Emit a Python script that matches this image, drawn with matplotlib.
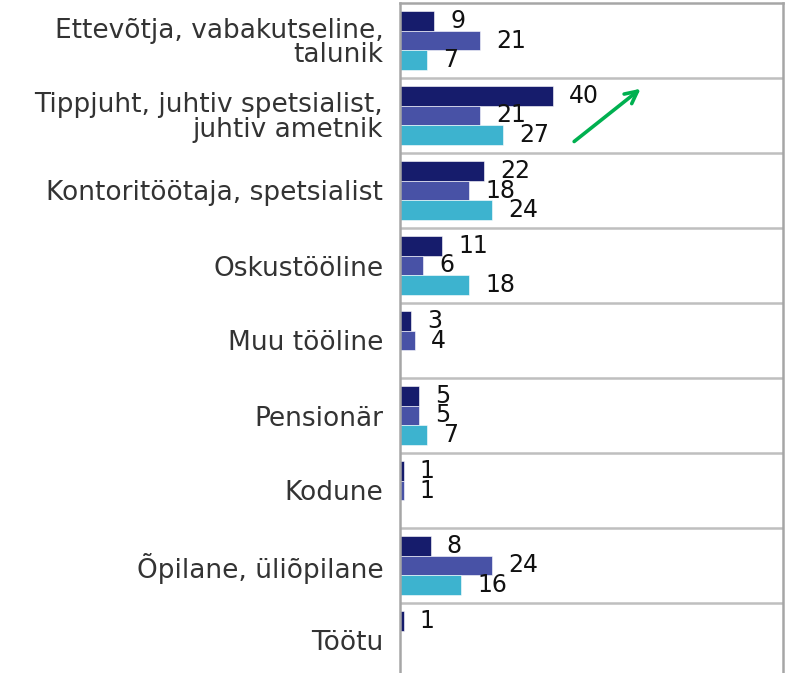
import numpy as np
import matplotlib.pyplot as plt

categories = ['Ettevõtja, vabakutseline,\ntalunik',
              'Tippjuht, juhtiv spetsialist,\njuhtiv ametnik',
              'Kontoritöötaja, spetsialist',
              'Oskustööline',
              'Muu tööline',
              'Pensionär',
              'Kodune',
              'Õpilane, üliõpilane',
              'Töötu']
series1 = [9, 40, 22, 11, 3, 5, 1, 8, 1]
series2 = [21, 21, 18, 6, 4, 5, 1, 24, None]
series3 = [7, 27, 24, 18, None, 7, None, 16, None]
colors = ['#161c6c', '#4852a6', '#3db3cf']

fig = plt.figure(figsize=(7.88, 6.73), dpi=100)
ax = fig.add_axes([400 / 788, -5 / 673, 383 / 788, 675 / 673])

y = np.arange(len(categories))
h = 0.26
for k, (vals, col) in enumerate(zip([series1, series2, series3], colors)):
    off = (k - 1) * h
    for i, v in enumerate(vals):
        if v is None:
            continue
        ax.barh(y[i] + off, v, height=h, color=col, edgecolor='white', linewidth=0.4)
        ax.annotate(str(v), (v, y[i] + off), xytext=(16, 0), textcoords='offset pixels',
                    ha='left', va='center', fontsize=17, color='#111111')

ax.set_xlim(0, 100)
ax.set_ylim(len(categories) - 0.5, -0.5)
ax.set_yticks(y)
ax.set_yticklabels(categories, fontsize=19, color='#333333', ha='right',
                   multialignment='right', linespacing=0.92)
ax.tick_params(axis='y', length=0, pad=12)
ax.set_xticks([])
for b in np.arange(0.5, len(categories) - 1, 1):
    ax.axhline(b, color='#bfbfbf', lw=1.8)
for s in ['left', 'right', 'top']:
    ax.spines[s].set_color('#a6a6a6')
    ax.spines[s].set_linewidth(1.8)
ax.spines['bottom'].set_visible(False)

ax.annotate('', xy=(63.4, 0.62), xytext=(44.9, 1.37),
            arrowprops=dict(arrowstyle='->', color='#00b050', lw=2.6, mutation_scale=22))

fig.savefig('out.png', dpi=100)
